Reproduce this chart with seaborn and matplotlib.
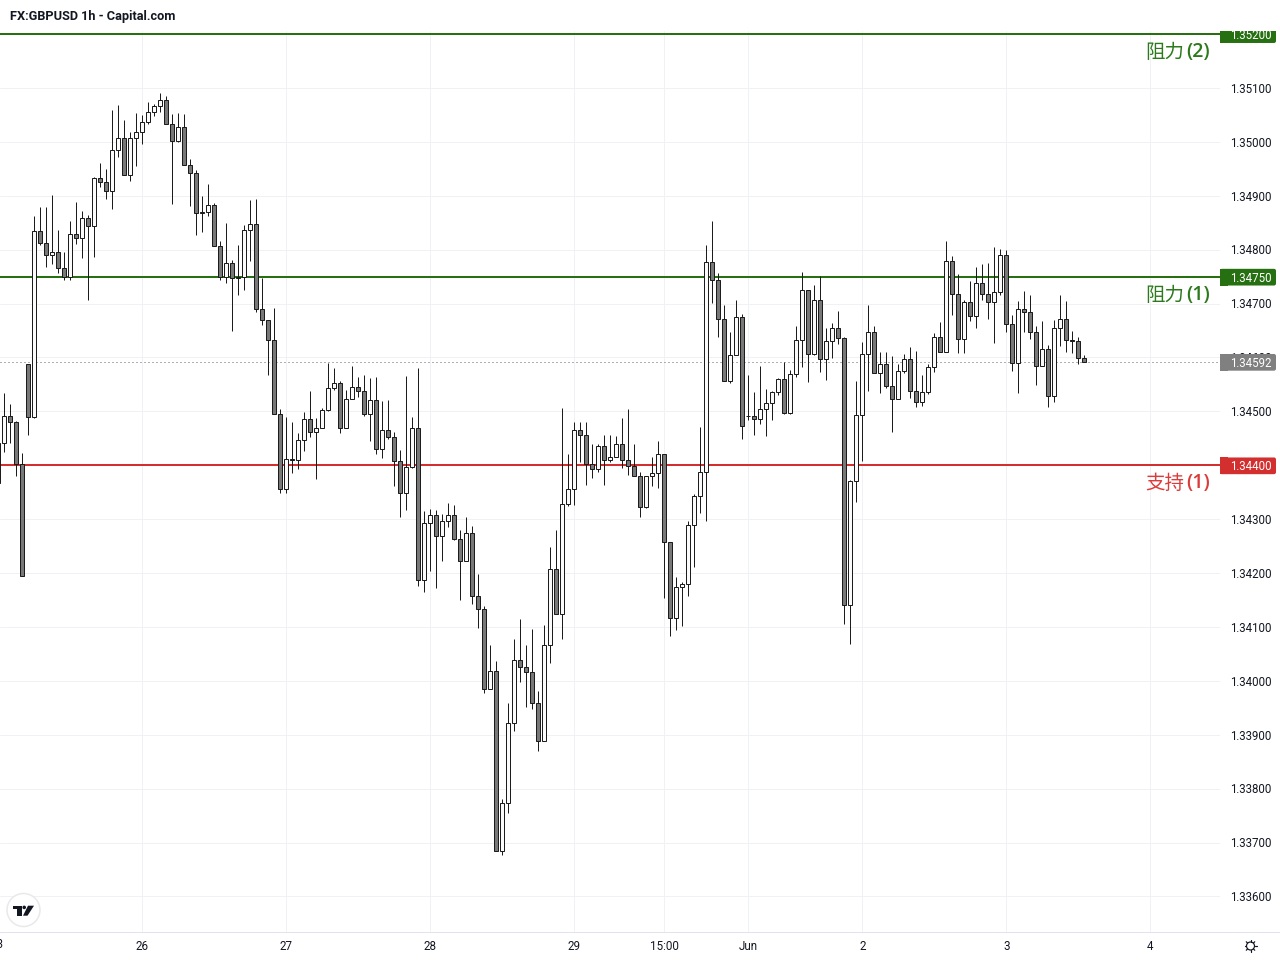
import numpy as np
import pandas as pd
import matplotlib
matplotlib.use("Agg")
import matplotlib.pyplot as plt
import seaborn as sns
from matplotlib.patches import Circle, FancyBboxPatch, Polygon, Rectangle
from matplotlib.lines import Line2D
from matplotlib.transforms import Affine2D, IdentityTransform

# GBP/USD hourly candles, prices in units of 0.00001
highs = [
    134442, 134535, 134513, 134483, 134422, 134587, 134862, 134880, 134880, 134901,
    134836, 134795, 134854, 134888, 134871, 134865, 134935, 134960, 134949, 135060,
    135068, 135040, 135019, 135053, 135049, 135074, 135071, 135091, 135086, 135051,
    135053, 135051, 134969, 134948, 134899, 134921, 134887, 134816, 134850, 134781,
    134809, 134846, 134893, 134894, 134748, 134670, 134691, 134504, 134490, 134481,
    134459, 134499, 134537, 134487, 134507, 134589, 134580, 134557, 134539, 134585,
    134563, 134568, 134561, 134563, 134520, 134522, 134462, 134429, 134565, 134490,
    134580, 134316, 134319, 134317, 134310, 134330, 134327, 134279, 134304, 134288,
    134199, 134139, 134067, 134037, 133781, 133959, 134078, 134115, 134067, 134097,
    133982, 134104, 134249, 134279, 134507, 134420, 134481, 134481, 134481, 134440,
    134440, 134457, 134457, 134455, 134488, 134505, 134440, 134388, 134381, 134416,
    134445, 134420, 134258, 134193, 134184, 134297, 134347, 134471, 134809, 134854,
    134757, 134698, 134648, 134707, 134681, 134568, 134536, 134585, 134542, 134538,
    134562, 134592, 134577, 134659, 134759, 134726, 134735, 134752, 134655, 134664,
    134687, 134638, 134373, 134557, 134629, 134698, 134659, 134611, 134611, 134603,
    134587, 134607, 134620, 134612, 134568, 134588, 134646, 134666, 134817, 134789,
    134755, 134707, 134741, 134768, 134774, 134776, 134805, 134802, 134800, 134679,
    134705, 134724, 134716, 134659, 134668, 134624, 134670, 134716, 134705, 134650,
    134638, 134605,
]
opens = [
    134442, 134442, 134492, 134481, 134403, 134587, 134489, 134835, 134813, 134791,
    134796, 134766, 134750, 134830, 134822, 134859, 134844, 134933, 134926, 134909,
    134984, 135008, 134939, 135008, 135019, 135037, 135056, 135067, 135078, 135034,
    135002, 135028, 134958, 134943, 134870, 134870, 134883, 134807, 134750, 134776,
    134748, 134750, 134837, 134848, 134690, 134670, 134633, 134496, 134356, 134412,
    134410, 134447, 134486, 134462, 134470, 134503, 134544, 134553, 134470, 134523,
    134546, 134538, 134496, 134522, 134431, 134466, 134453, 134408, 134349, 134397,
    134470, 134188, 134292, 134308, 134269, 134297, 134308, 134264, 134223, 134275,
    134158, 134134, 133985, 134019, 133685, 133774, 133922, 134039, 134026, 134017,
    133959, 133889, 134067, 134208, 134125, 134329, 134356, 134466, 134457, 134403,
    134394, 134436, 134410, 134416, 134440, 134410, 134399, 134381, 134323, 134381,
    134386, 134420, 134258, 134117, 134175, 134180, 134290, 134343, 134388, 134778,
    134744, 134672, 134557, 134605, 134676, 134492, 134492, 134486, 134505, 134516,
    134536, 134560, 134497, 134570, 134633, 134726, 134607, 134707, 134598, 134631,
    134655, 134637, 134141, 134371, 134494, 134607, 134648, 134572, 134588, 134548,
    134523, 134575, 134598, 134538, 134518, 134536, 134583, 134638, 134611, 134779,
    134718, 134635, 134703, 134677, 134739, 134718, 134703, 134722, 134791, 134662,
    134590, 134690, 134685, 134648, 134585, 134616, 134529, 134655, 134672, 134633,
    134631, 134599,
]
closes = [
    134368, 134492, 134481, 134403, 134195, 134489, 134835, 134813, 134791, 134796,
    134766, 134750, 134830, 134822, 134859, 134844, 134933, 134926, 134909, 134984,
    135008, 134939, 135008, 135019, 135037, 135056, 135067, 135078, 135034, 135002,
    135028, 134958, 134943, 134868, 134868, 134883, 134807, 134750, 134776, 134748,
    134750, 134837, 134848, 134690, 134670, 134633, 134496, 134356, 134412, 134410,
    134447, 134486, 134462, 134470, 134503, 134544, 134553, 134470, 134523, 134546,
    134538, 134496, 134522, 134431, 134466, 134453, 134408, 134349, 134397, 134470,
    134188, 134292, 134308, 134269, 134297, 134308, 134264, 134223, 134275, 134158,
    134134, 133985, 134019, 133685, 133774, 133922, 134039, 134026, 134017, 133959,
    133889, 134067, 134208, 134125, 134329, 134356, 134466, 134457, 134403, 134394,
    134436, 134410, 134416, 134440, 134410, 134399, 134381, 134323, 134381, 134386,
    134420, 134258, 134117, 134175, 134180, 134290, 134343, 134388, 134778, 134744,
    134672, 134557, 134605, 134676, 134473, 134492, 134486, 134505, 134516, 134536,
    134560, 134497, 134570, 134633, 134726, 134607, 134707, 134598, 134631, 134655,
    134637, 134141, 134371, 134494, 134607, 134648, 134572, 134588, 134548, 134523,
    134575, 134598, 134538, 134518, 134536, 134583, 134638, 134611, 134779, 134718,
    134635, 134703, 134677, 134739, 134718, 134703, 134722, 134791, 134662, 134590,
    134690, 134685, 134648, 134585, 134616, 134529, 134655, 134672, 134633, 134631,
    134599, 134592,
]
lows = [
    134368, 134424, 134441, 134380, 134195, 134456, 134487, 134808, 134768, 134773,
    134756, 134743, 134743, 134810, 134784, 134706, 134786, 134916, 134894, 134875,
    134972, 134939, 134927, 134956, 134996, 135034, 135048, 135055, 135034, 134884,
    134999, 134958, 134881, 134827, 134832, 134862, 134807, 134743, 134738, 134650,
    134716, 134725, 134779, 134685, 134660, 134567, 134496, 134349, 134348, 134386,
    134394, 134426, 134452, 134374, 134470, 134501, 134539, 134460, 134470, 134523,
    134526, 134491, 134445, 134421, 134413, 134449, 134361, 134304, 134317, 134395,
    134176, 134165, 134204, 134173, 134223, 134286, 134261, 134150, 134223, 134143,
    134099, 133977, 133985, 133685, 133677, 133755, 133907, 133998, 133951, 133948,
    133870, 133889, 134033, 134125, 134078, 134325, 134327, 134407, 134364, 134376,
    134387, 134363, 134406, 134416, 134395, 134382, 134381, 134304, 134320, 134361,
    134358, 134154, 134084, 134094, 134101, 134157, 134211, 134311, 134297, 134701,
    134638, 134557, 134553, 134605, 134449, 134484, 134456, 134477, 134454, 134484,
    134531, 134495, 134496, 134564, 134583, 134554, 134605, 134573, 134558, 134599,
    134625, 134105, 134068, 134332, 134408, 134537, 134572, 134534, 134544, 134462,
    134523, 134572, 134525, 134509, 134510, 134533, 134573, 134611, 134611, 134679,
    134608, 134608, 134667, 134654, 134706, 134672, 134627, 134716, 134648, 134575,
    134534, 134648, 134634, 134549, 134585, 134508, 134517, 134621, 134610, 134608,
    134587, 134592,
]

time_ticks = [24, 48, 72, 96, 111, 125, 144, 168, 192]
time_labels = ["26", "27", "28", "29", "15:00", "Jun", "2", "3", "4"]
first_label = "23"
price_levels = [1.336 + 0.001 * k for k in range(17)]

resistance_2 = 1.35200
resistance_1 = 1.34750
support_1 = 1.34400
last_price = closes[-1] / 1e5

INK = "#131722"
GREEN = "#277011"
RED = "#d32f2f"
GREY_TAG = "#808080"
GRID = "#f0f1f4"
WICK = "#1c1c1c"
UP_FILL = "#fbfbfb"
DOWN_FILL = "#787878"

LATIN = "Roboto"
PX = 0.72  # one pixel in points at 100 dpi

sns.set_theme(style="white", rc={"axes.facecolor": "white", "figure.facecolor": "white"})
plt.rcParams["font.family"] = [LATIN, "DejaVu Sans"]

candles = pd.DataFrame({
    "candle": np.arange(len(opens)),
    "open": np.array(opens) / 1e5,
    "high": np.array(highs) / 1e5,
    "low": np.array(lows) / 1e5,
    "close": np.array(closes) / 1e5,
})
wicks = candles.melt(id_vars="candle", value_vars=["low", "high"], value_name="price")

fig = plt.figure(figsize=(12.8, 9.6), dpi=100)
pane_bottom = (960 - 932) / 960
pane_height = (932 - 31) / 960
ax = fig.add_axes([0, pane_bottom, 1220 / 1280, pane_height])
scale = fig.add_axes([1220 / 1280, pane_bottom, 60 / 1280, pane_height])

ax.set_xlim(0.283, 203.6)
ax.set_ylim(1.335341, 1.352057)
scale.set_xlim(0, 60)
scale.set_ylim(ax.get_ylim())
scale.axis("off")

# Grid and tick labels
ax.set_axisbelow(True)
ax.set_xticks(time_ticks, time_labels)
ax.set_yticks(price_levels, ["" if abs(v - resistance_2) < 1e-9 else f"{v:.5f}" for v in price_levels])
ax.yaxis.tick_right()
ax.grid(True, color=GRID, lw=PX)
ax.tick_params(axis="x", length=0, pad=5.5, labelsize=8.4, labelcolor=INK)
ax.tick_params(axis="y", length=0, pad=7.0, labelsize=8.3, labelcolor=INK)
for tick_text in ax.get_yticklabels():
    tick_text.set_transform(tick_text.get_transform() + Affine2D().translate(0, 0.2))
ax.annotate(first_label, xy=(0, 0), xycoords=ax.get_xaxis_transform(), xytext=(-1.5, -13),
            textcoords="offset pixels", ha="center", va="center", fontsize=8.4, color=INK,
            annotation_clip=False)

# Level lines sit underneath the candles
ax.axhline(resistance_2, color=GREEN, lw=2 * PX, zorder=2)
ax.axhline(resistance_1, color=GREEN, lw=2 * PX, zorder=2)
ax.axhline(support_1, color=RED, lw=2 * PX, zorder=2)
ax.axhline(last_price, color="#5f6270", lw=PX, ls=(0, (1, 3)), zorder=2, snap=True)

# Candles
sns.lineplot(data=wicks, x="candle", y="price", units="candle", estimator=None,
             color=WICK, lw=PX, ax=ax, legend=False, zorder=3, solid_capstyle="butt")
body_low = candles[["open", "close"]].min(axis=1)
body_high = candles[["open", "close"]].max(axis=1)
fills = [UP_FILL if c > o else DOWN_FILL for o, c in zip(candles["open"], candles["close"])]
ax.bar(candles["candle"], body_high - body_low, bottom=body_low, width=0.68, color=fills,
       edgecolor=WICK, linewidth=PX, zorder=4)

ax.set_xlabel("")
ax.set_ylabel("")
sns.despine(ax=ax, left=True, right=True, top=True, bottom=True)


# Price tags on the scale
def price_tag(price, color):
    y = scale.transData.transform((0, price))[1]
    to_px = Affine2D().translate(1220, y) + IdentityTransform()
    scale.add_patch(FancyBboxPatch((0, -8.9), 56, 16.7, boxstyle="round,pad=0,rounding_size=2",
                                   fc=color, ec="none", transform=to_px, zorder=5))
    scale.add_patch(Rectangle((0, -8.9), 8, 16.7, fc=color, ec="none", transform=to_px, zorder=5))
    label = scale.annotate(f"{price:.5f}", xy=(30.4, price), xytext=(0, -1.7),
                           textcoords="offset pixels", color="white", ha="center", va="center",
                           fontsize=8.3, zorder=6)
    label.set_clip_on(True)
    label.set_clip_path(scale.patch)
    label.set_annotation_clip(False)


price_tag(resistance_2, GREEN)
price_tag(resistance_1, GREEN)
price_tag(last_price, GREY_TAG)
price_tag(support_1, RED)


# Level captions
def caption(price, cjk, tail, color, dy):
    ref = ax.get_yaxis_transform()
    ax.annotate(cjk, xy=(1, price), xycoords=ref, xytext=(-36, dy), textcoords="offset pixels",
                ha="right", va="center", fontsize=14, color=color, zorder=6,
                family=["Noto Sans CJK SC", "DejaVu Sans"], weight="light")
    ax.annotate(tail, xy=(1, price), xycoords=ref, xytext=(-10, dy), textcoords="offset pixels",
                ha="right", va="center", fontsize=14, color=color, zorder=6,
                family="Open Sans", weight="semibold")


caption(resistance_2, "阻力", "(2)", "#2c7a1c", -18)
caption(resistance_1, "阻力", "(1)", "#2c7a1c", -18.5)
caption(support_1, "支持", "(1)", "#dc3b3b", -18)

# Header
fig.text(10 / 1280, 1 - 16.3 / 960, "FX:GBPUSD 1h - Capital.com", ha="left", va="center",
         fontsize=9.15, weight="bold", color=INK)

# Axis separator along the bottom
fig.add_artist(Line2D([0, 1], [pane_bottom, pane_bottom], transform=fig.transFigure,
                      color="#e0e3eb", lw=PX))

px = IdentityTransform()


def flip(points):
    return [(x, 960 - y) for x, y in points]


# Logo badge
fig.add_artist(Circle((23.5, 960 - 910), 16.5, fc="white", ec="#e9e9ec", lw=1.1, transform=px))
for shape in (
    [(12.7, 905.7), (21.7, 905.7), (21.7, 915.7), (17.3, 915.7), (17.3, 909.0), (12.7, 909.0)],
    [(28.0, 905.7), (34.0, 905.7), (27.5, 915.7), (23.0, 915.7)],
):
    fig.add_artist(Polygon(flip(shape), closed=True, fc=INK, ec="none", transform=px))
fig.add_artist(Circle((24.2, 960 - 907.4), 1.8, fc=INK, ec="none", transform=px))

# Settings gear
fig.add_artist(Circle((1250.5, 14), 4.0, fc="none", ec=INK, lw=PX * 1.2, transform=px))
for angle in np.deg2rad(np.arange(0, 360, 45)):
    fig.add_artist(Line2D([1250.5 + 4.2 * np.cos(angle), 1250.5 + 6.0 * np.cos(angle)],
                          [14 + 4.2 * np.sin(angle), 14 + 6.0 * np.sin(angle)],
                          color=INK, lw=PX * 1.2, transform=px))

fig.savefig("out.png", dpi=100)
